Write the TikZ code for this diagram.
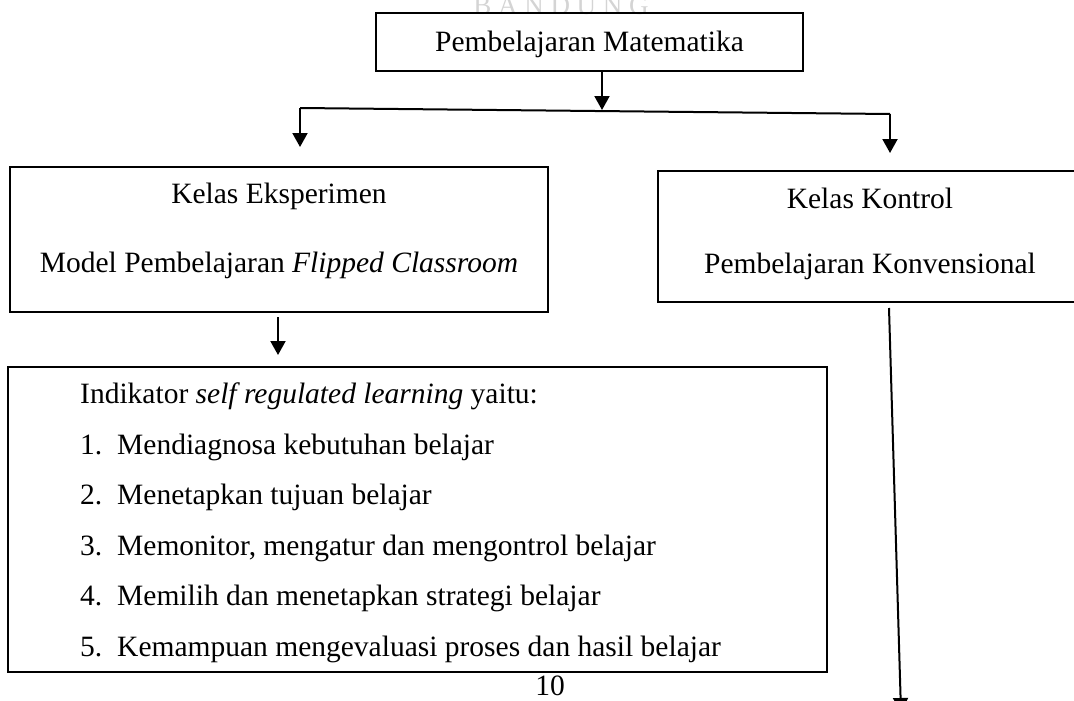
\documentclass[tikz,border=0pt]{standalone}
\usepackage{fontspec}
\setmainfont{Liberation Serif}
\usetikzlibrary{arrows.meta}
\begin{document}
\begin{tikzpicture}[x=1pt,y=-1pt,
  box/.style={draw, line width=1.6pt, inner sep=0pt, outer sep=0pt},
  txt/.style={font=\fontsize{29.5}{35}\selectfont, inner sep=0pt, anchor=base},
  txtl/.style={txt, anchor=base west},
  wire/.style={line width=2pt},
  conn/.style={line width=2pt, -{Triangle[width=15pt,length=14pt]}}]
\useasboundingbox (0,0) rectangle (1074,701);
\clip (0,0) rectangle (1074,701);
% faint watermark
\node[txt, text=black!17, font=\fontsize{27}{30}\selectfont] (wm) at (561,15) {B A N D U N G};
% boxes
\node[box, minimum width=427pt, minimum height=58pt] (top) at (589.5,42) {};
\node[txt] (toptxt) at (589.5,52) {Pembelajaran Matematika};
\node[box, minimum width=538pt, minimum height=145pt] (eks) at (279,239.5) {};
\node[txt] (eks1) at (279,203) {Kelas Eksperimen};
\node[txt] (eks2) at (279,272) {Model Pembelajaran \textit{Flipped Classroom}};
\node[box, minimum width=432pt, minimum height=131pt] (kon) at (874,236.5) {};
\node[txt] (kon1) at (870,208) {Kelas Kontrol};
\node[txt] (kon2) at (870,273) {Pembelajaran Konvensional};
\node[box, minimum width=819pt, minimum height=305pt] (ind) at (417.5,519.5) {};
\node[txtl] (ind0) at (80,403.5) {Indikator \textit{self regulated learning} yaitu:};
\node[txtl] (n1) at (80,454) {1.};
\node[txtl] (i1) at (117,454) {Mendiagnosa kebutuhan belajar};
\node[txtl] (n2) at (80,504.5) {2.};
\node[txtl] (i2) at (117,504.5) {Menetapkan tujuan belajar};
\node[txtl] (n3) at (80,555) {3.};
\node[txtl] (i3) at (117,555) {Memonitor, mengatur dan mengontrol belajar};
\node[txtl] (n4) at (80,605.5) {4.};
\node[txtl] (i4) at (117,605.5) {Memilih dan menetapkan strategi belajar};
\node[txtl] (n5) at (80,656) {5.};
\node[txtl] (i5) at (117,656) {Kemampuan mengevaluasi proses dan hasil belajar};
\node[txt] (pg) at (550,695) {10};
% connectors
\coordinate (jm) at (602,110);
\coordinate (jl) at (300,108);
\coordinate (jr) at (890,114);
\coordinate (tl) at (300,147);
\coordinate (tr) at (890,153);
\coordinate (es) at (278,317);
\coordinate (ee) at (278,355);
\coordinate (ks) at (889,308);
\coordinate (ke) at (901,712);
\draw[conn] (top.south -| jm) -- (jm);
\draw[wire] (jl) -- (jr);
\draw[conn] (jl) -- (tl);
\draw[conn] (jr) -- (tr);
\draw[conn] (es) -- (ee);
\draw[conn] (ks) -- (ke);
\end{tikzpicture}
\end{document}
